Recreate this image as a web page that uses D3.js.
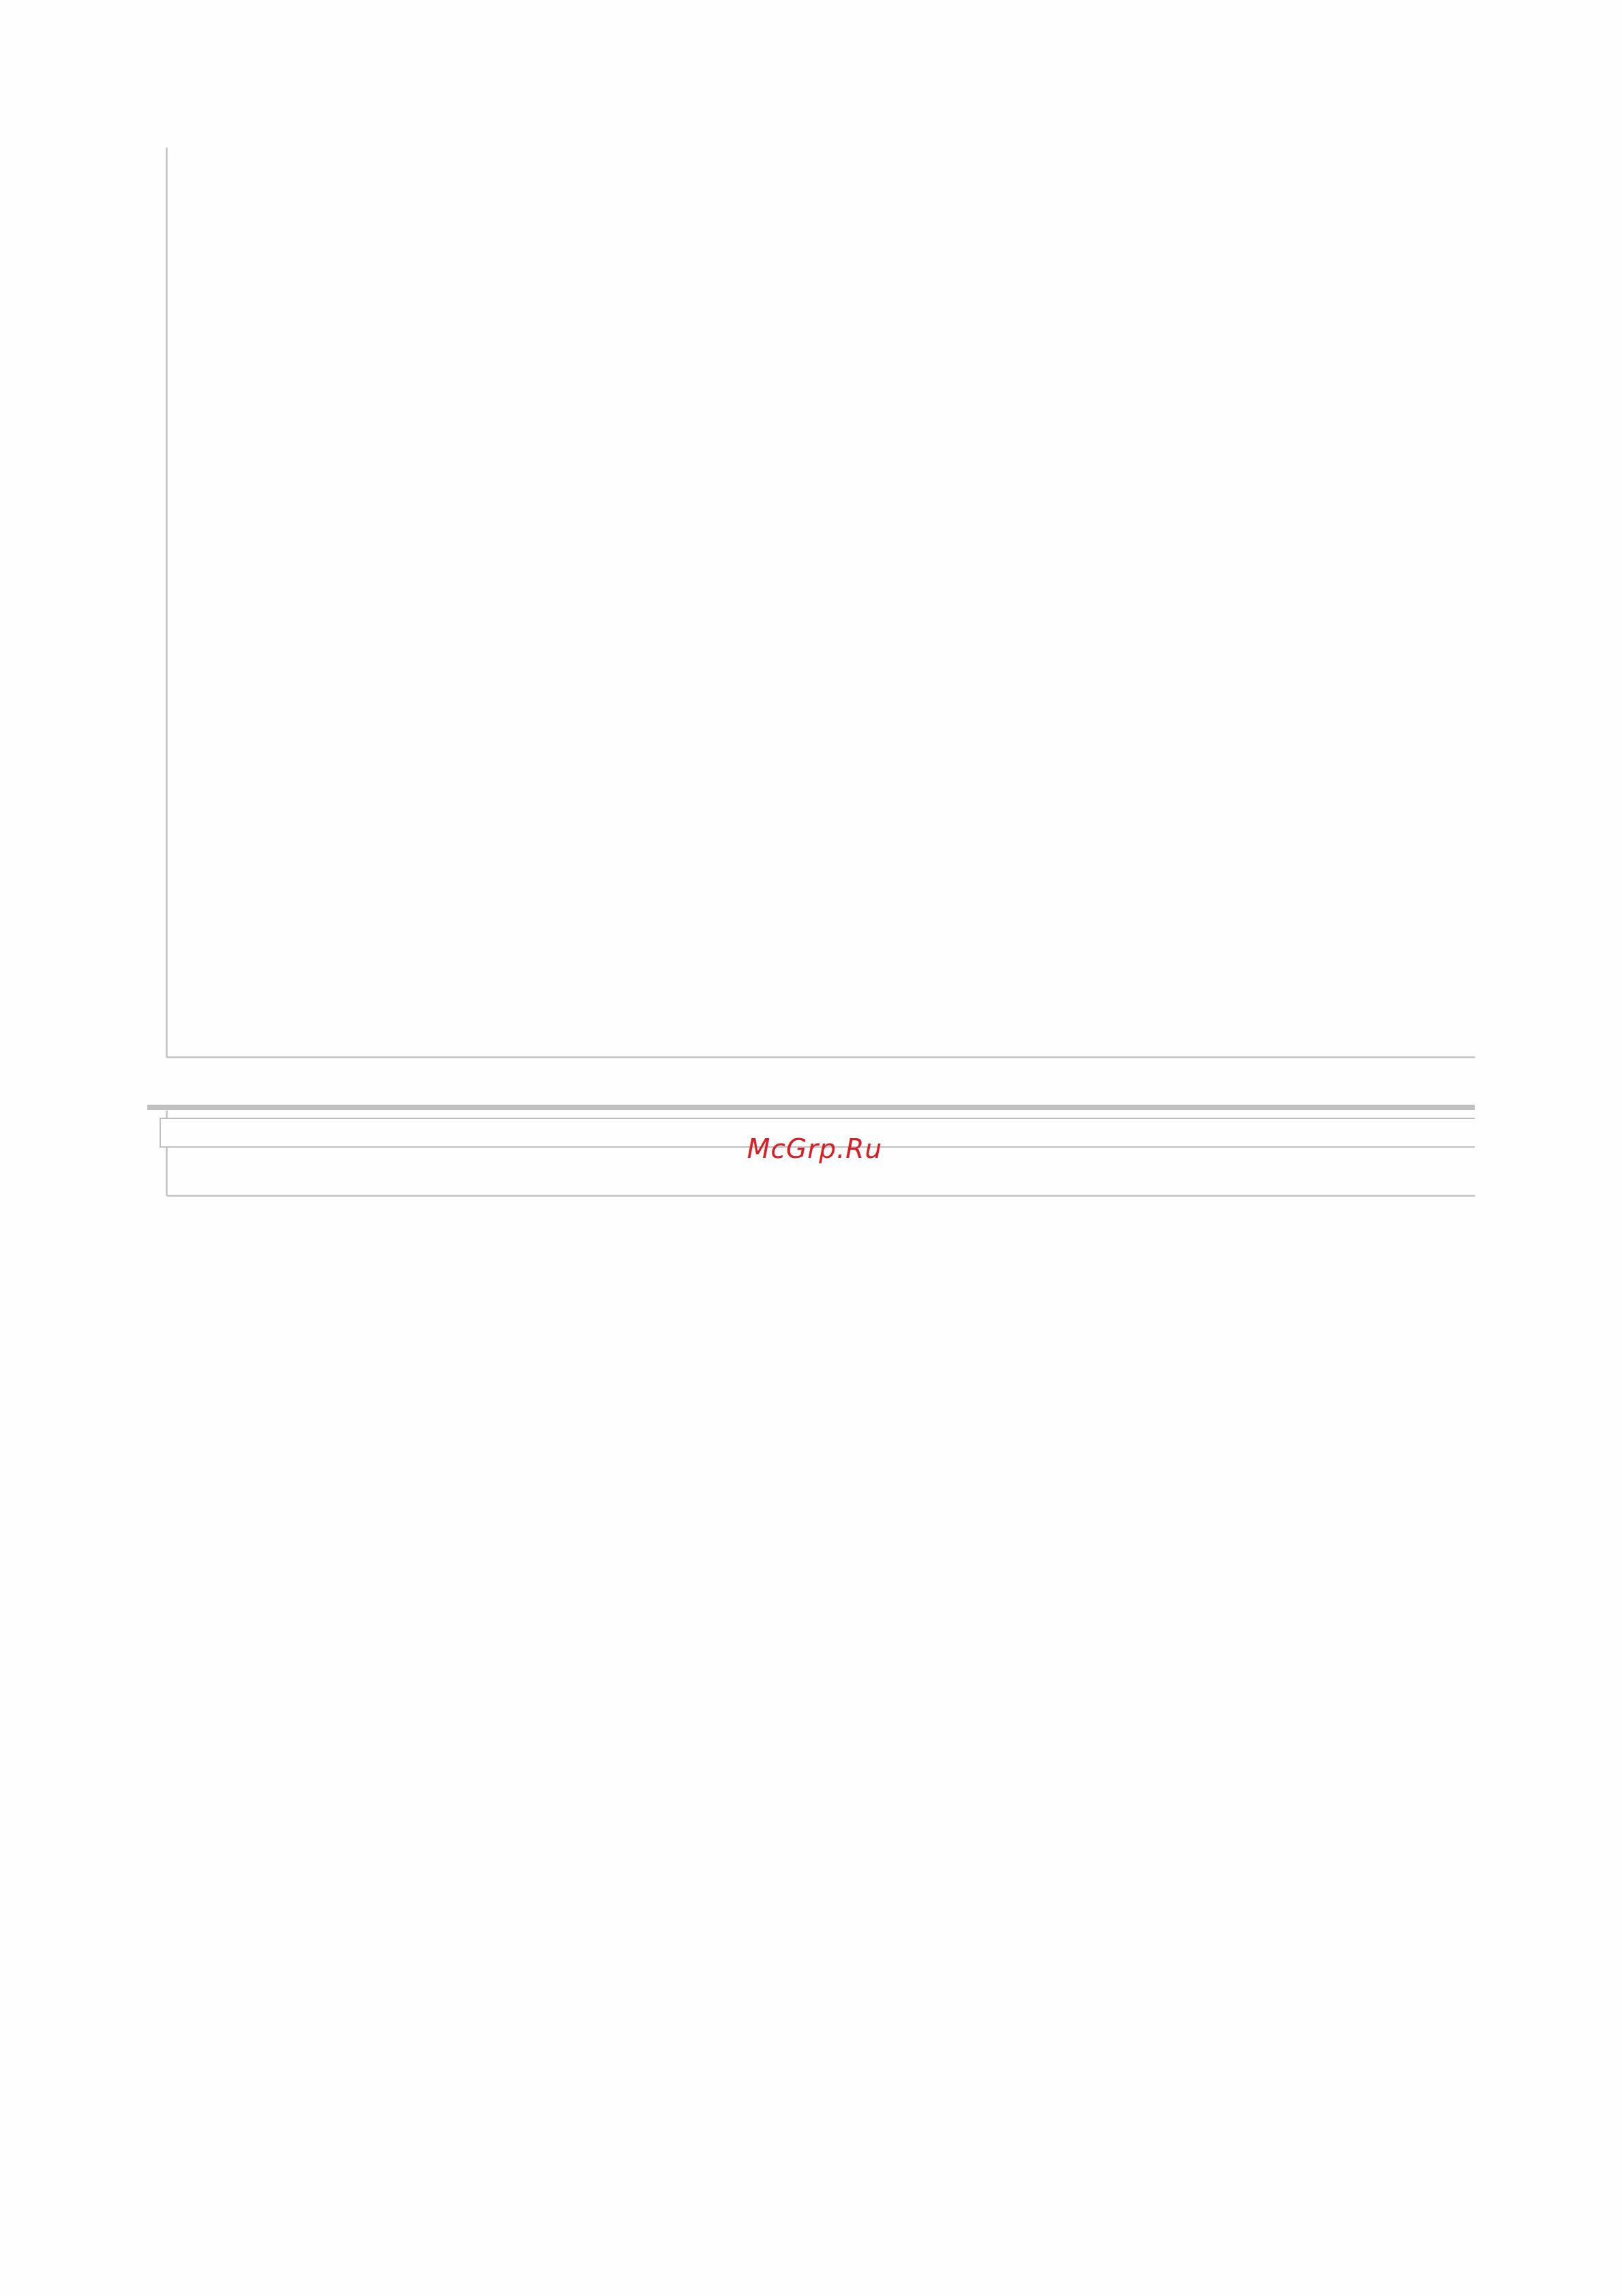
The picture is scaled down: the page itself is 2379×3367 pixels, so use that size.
<!DOCTYPE html>
<html>
<head>
<meta charset="utf-8">
<script src="https://cdn.jsdelivr.net/npm/d3@7"></script>
<style>
  html, body { margin: 0; padding: 0; background: #fefefe; }
  svg { display: block; }
</style>
</head>
<body>
<div id="chart"></div>
<script>
// ============================================
// DATA (the page is an empty chart frame: no series)
// ============================================
const categories = [];
const seriesValues = [];
const tickLabels = [];
const watermark = "McGrp.Ru";

const W = 2379, H = 3367;
const LINE = "#c0c0c0";

const svg = d3.select("#chart").append("svg")
  .attr("width", W).attr("height", H);

// main plot frame
const x = d3.scaleBand().domain(categories).range([244, 2163]);
const y = d3.scaleLinear().domain([0, d3.max(seriesValues) || 1]).range([1550, 216]);

const axisX = d3.axisBottom(x).tickSize(0).tickFormat((d, i) => tickLabels[i] || "");
const axisY = d3.axisLeft(y).tickValues([]).tickSize(0);

svg.append("g").attr("transform", `translate(0,${y(0)})`).call(axisX)
  .select(".domain").attr("stroke", LINE).attr("stroke-width", 2.5);
svg.append("g").attr("transform", `translate(${x.range()[0]},0)`).call(axisY)
  .select(".domain").attr("stroke", LINE).attr("stroke-width", 2.5);

// lower panel
const y2 = d3.scaleLinear().domain([0, 1]).range([1753, 1628]);
svg.append("rect")
  .attr("x", 216).attr("y", 1620).attr("width", 2163 - 216).attr("height", 8)
  .attr("fill", LINE);

svg.append("g").attr("transform", `translate(0,${y2(0)})`).call(axisX)
  .select(".domain").attr("stroke", LINE).attr("stroke-width", 2.5);
svg.append("g").attr("transform", `translate(${x.range()[0]},0)`).call(d3.axisLeft(y2).tickValues([]).tickSize(0))
  .select(".domain").attr("stroke", LINE).attr("stroke-width", 2.5);

// header box inside the lower panel
svg.append("path")
  .attr("d", "M2163,1640H235V1682H2163")
  .attr("fill", "#fefefe")
  .attr("stroke", LINE).attr("stroke-width", 2);

svg.append("text")
  .attr("x", 1195).attr("y", 1698)
  .attr("text-anchor", "middle")
  .attr("font-family", "DejaVu Sans")
  .attr("font-style", "italic")
  .attr("font-size", 39)
  .attr("letter-spacing", 1)
  .attr("fill", "#d42026")
  .text(watermark);
</script>
</body>
</html>
